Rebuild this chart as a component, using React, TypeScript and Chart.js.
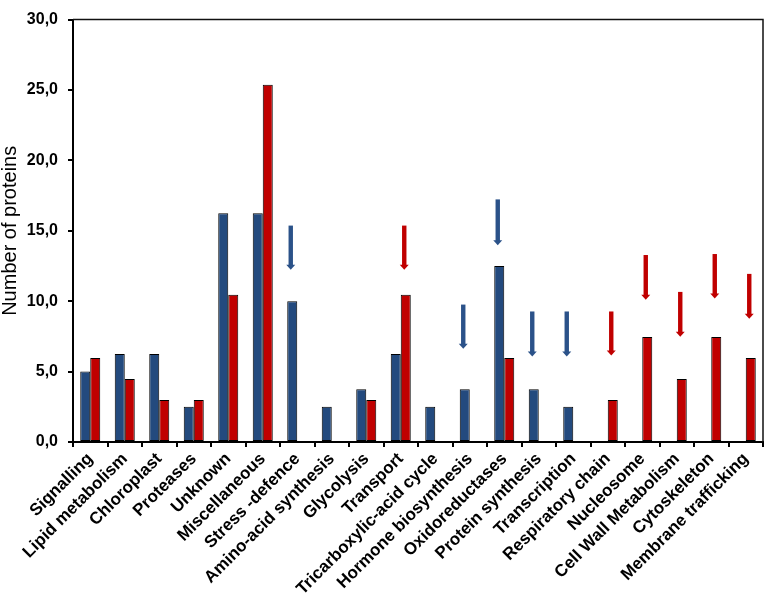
import React, { useEffect, useRef } from 'react';
import { Chart, registerables } from 'chart.js';

Chart.register(...registerables);

const categories = [
  'Signalling',
  'Lipid metabolism',
  'Chloroplast',
  'Proteases',
  'Unknown',
  'Miscellaneous',
  'Stress -defence',
  'Amino-acid synthesis',
  'Glycolysis',
  'Transport',
  'Tricarboxylic-acid cycle',
  'Hormone biosynthesis',
  'Oxidoreductases',
  'Protein synthesis',
  'Transcription',
  'Respiratory chain',
  'Nucleosome',
  'Cell Wall Metabolism',
  'Cytoskeleton',
  'Membrane trafficking',
];

// blue series
const seriesBlue: (number | null)[] = [
  5.0, 6.25, 6.25, 2.5, 16.25, 16.25, 10.0, 2.5, 3.75, 6.25,
  2.5, 3.75, 12.5, 3.75, 2.5, null, null, null, null, null,
];

// red series
const seriesRed: (number | null)[] = [
  5.97, 4.48, 2.99, 2.99, 10.45, 25.37, null, null, 2.99, 10.45,
  null, null, 5.97, null, null, 2.99, 7.46, 4.48, 7.46, 5.97,
];

const yMin = 0;
const yMax = 30;
const yStep = 5;

// arrows: category, series (0 = blue, 1 = red), start value, tip value
const arrowCategories = [
  'Stress -defence',
  'Transport',
  'Hormone biosynthesis',
  'Oxidoreductases',
  'Protein synthesis',
  'Transcription',
  'Respiratory chain',
  'Nucleosome',
  'Cell Wall Metabolism',
  'Cytoskeleton',
  'Membrane trafficking',
];
const arrowSeries = [0, 1, 0, 0, 0, 0, 1, 1, 1, 1, 1];
const arrowFrom = [15.37, 15.37, 9.76, 17.23, 9.27, 9.27, 9.27, 13.28, 10.66, 13.35, 11.94];
const arrowTo = [12.24, 12.24, 6.62, 13.98, 6.08, 6.08, 6.15, 10.1, 7.48, 10.2, 8.75];

const BLUE = '#234A7E';
const RED = '#C00000';
const ARROW_BLUE = '#2B5289';
const FONT = "'Liberation Sans', Arial, sans-serif";

const arrowPlugin = {
  id: 'arrows',
  afterDatasetsDraw(chart: any) {
    const ctx = chart.ctx;
    const ys = chart.scales.y;
    arrowCategories.forEach((cat, i) => {
      const dsIndex = arrowSeries[i];
      const idx = categories.indexOf(cat);
      const bar = chart.getDatasetMeta(dsIndex).data[idx];
      if (!bar) return;
      const x = bar.x - 1.5;
      const yTop = ys.getPixelForValue(arrowFrom[i]);
      const yTip = ys.getPixelForValue(arrowTo[i]);
      const color = dsIndex === 0 ? ARROW_BLUE : RED;
      const headH = 5;
      const headW = 4.5;
      ctx.save();
      ctx.fillStyle = color;
      ctx.fillRect(x - 2.2, yTop, 4.4, yTip - yTop - headH + 1);
      ctx.beginPath();
      ctx.moveTo(x - headW, yTip - headH);
      ctx.lineTo(x + headW, yTip - headH);
      ctx.lineTo(x, yTip);
      ctx.closePath();
      ctx.fill();
      ctx.restore();
    });
  },
};

const framePlugin = {
  id: 'frame',
  afterDraw(chart: any) {
    const { ctx, chartArea } = chart;
    ctx.save();
    ctx.strokeStyle = '#111';
    ctx.lineWidth = 1.5;
    ctx.beginPath();
    ctx.moveTo(chartArea.left, chartArea.top);
    ctx.lineTo(chartArea.right, chartArea.top);
    ctx.lineTo(chartArea.right, chartArea.bottom);
    ctx.stroke();
    ctx.restore();
  },
};

export default function App() {
  const ref = useRef<HTMLCanvasElement | null>(null);

  useEffect(() => {
    if (!ref.current) return;
    const chart = new Chart(ref.current, {
      type: 'bar',
      data: {
        labels: categories,
        datasets: [
          {
            label: 'Blue',
            data: seriesBlue,
            backgroundColor: BLUE,
            borderColor: '#000',
            borderWidth: 1,
            borderSkipped: false,
            categoryPercentage: 0.58,
            barPercentage: 1.0,
          },
          {
            label: 'Red',
            data: seriesRed,
            backgroundColor: RED,
            borderColor: '#000',
            borderWidth: 1,
            borderSkipped: false,
            categoryPercentage: 0.58,
            barPercentage: 1.0,
          },
        ],
      },
      options: {
        responsive: false,
        animation: false,
        layout: { padding: { top: 11, right: 6, left: 0, bottom: 0 } },
        plugins: {
          legend: { display: false },
          tooltip: { enabled: false },
        },
        scales: {
          x: {
            offset: true,
            grid: {
              offset: true,
              drawOnChartArea: false,
              drawTicks: true,
              tickLength: 5,
              color: '#000',
              lineWidth: 2,
            },
            border: { display: true, color: '#000', width: 2 },
            ticks: {
              autoSkip: false,
              maxRotation: 45,
              minRotation: 45,
              padding: 2,
              color: '#000',
              font: { family: FONT, size: 17, weight: 'bold' },
            },
            afterFit(scale: any) {
              scale.height = 157;
            },
          },
          y: {
            min: yMin,
            max: yMax,
            ticks: {
              stepSize: yStep,
              padding: 10,
              color: '#000',
              font: { family: FONT, size: 16, weight: 'bold' },
              callback: (v: any) => Number(v).toFixed(1).replace('.', ','),
            },
            grid: {
              drawOnChartArea: false,
              drawTicks: true,
              tickLength: 5,
              color: '#000',
              lineWidth: 2,
            },
            border: { display: true, color: '#000', width: 2 },
            title: {
              display: true,
              text: 'Number of proteins',
              color: '#000',
              padding: { top: 0, bottom: 0 },
              font: { family: FONT, size: 20, lineHeight: 1.0 },
            },
            afterFit(scale: any) {
              scale.width = 73;
            },
          },
        },
      },
      plugins: [arrowPlugin, framePlugin],
    });
    return () => chart.destroy();
  }, []);

  return (
    <div style={{ position: 'absolute', left: 0, top: 0, width: 769, height: 599, background: '#fff' }}>
      <canvas ref={ref} width={769} height={599} style={{ display: 'block' }} />
    </div>
  );
}
